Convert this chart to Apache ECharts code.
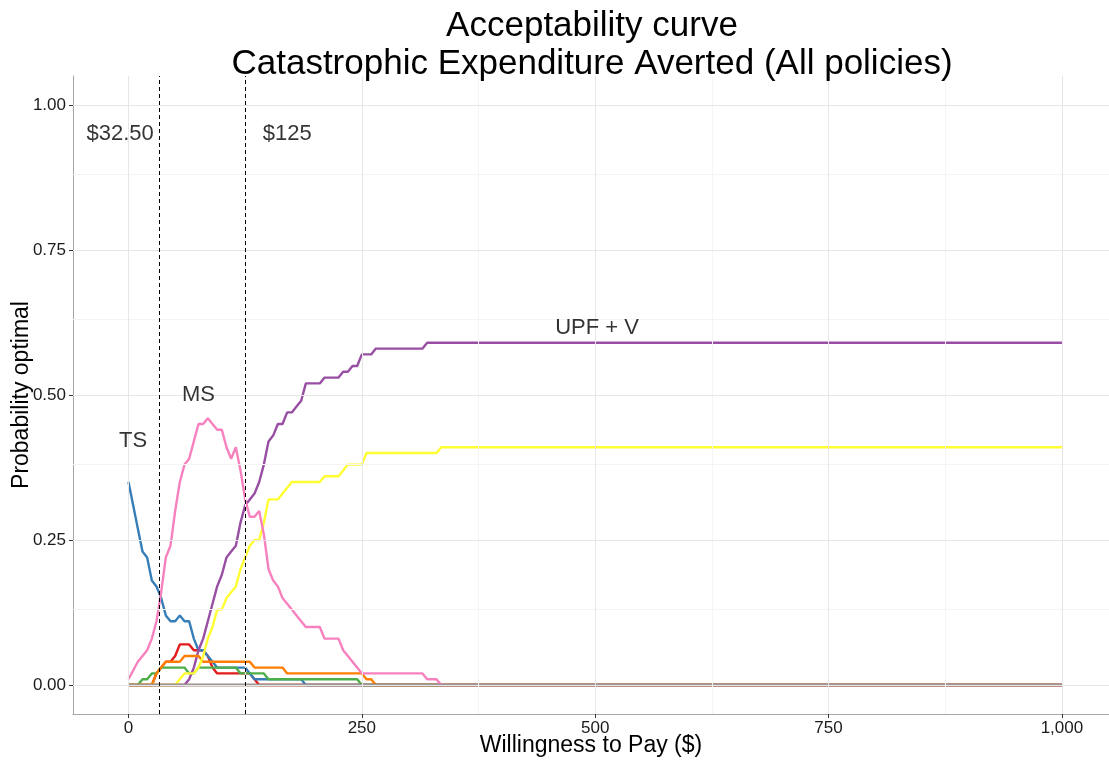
<!DOCTYPE html>
<html>
<head>
<meta charset="utf-8">
<script src="https://cdn.jsdelivr.net/npm/echarts@6/dist/echarts.min.js"></script>
<style>
  html, body { margin: 0; padding: 0; background: #ffffff; }
  #chart { width: 1109px; height: 763px; }
</style>
</head>
<body>
<div id="chart"></div>
<script>
// Willingness-to-pay thresholds (x) and probability each policy is optimal (y)
const seriesNames = ['Policy 1', 'TS', 'Policy 3', 'UPF + V', 'Policy 5', 'Policy 6', 'Policy 7', 'MS', 'Policy 9'];
const seriesColors = ['#E41A1C', '#377EB8', '#4DAF4A', '#984EA3', '#FF7F00', '#FFFF33', '#A65628', '#F781BF', '#999999'];

const redVals = [[0,0],[25,0],[30,0.02],[35,0.03],[40,0.04],[45,0.04],[50,0.05],[55,0.07],[65,0.07],[70,0.06],[80,0.06],[85,0.05],[90,0.03],[95,0.02],[130,0.02],[135,0.01],[140,0],[1000,0]];
const tsVals = [[0,0.35],[5,0.31],[10,0.27],[15,0.23],[20,0.22],[25,0.18],[30,0.17],[35,0.15],[40,0.12],[45,0.11],[50,0.11],[55,0.12],[60,0.11],[65,0.11],[70,0.08],[75,0.06],[80,0.06],[85,0.05],[90,0.04],[95,0.03],[125,0.03],[130,0.02],[135,0.01],[185,0.01],[190,0],[1000,0]];
const greenVals = [[0,0],[10,0],[15,0.01],[20,0.01],[25,0.02],[30,0.02],[35,0.03],[60,0.03],[65,0.02],[70,0.02],[75,0.03],[115,0.03],[120,0.02],[145,0.02],[150,0.01],[245,0.01],[250,0],[1000,0]];
const upfVals = [[0,0],[60,0],[65,0.01],[70,0.03],[75,0.06],[80,0.08],[85,0.11],[90,0.14],[95,0.17],[100,0.19],[105,0.22],[110,0.23],[115,0.24],[120,0.28],[125,0.31],[130,0.32],[135,0.33],[140,0.35],[145,0.38],[150,0.42],[155,0.43],[160,0.45],[165,0.45],[170,0.47],[175,0.47],[180,0.48],[185,0.49],[190,0.52],[205,0.52],[210,0.53],[225,0.53],[230,0.54],[235,0.54],[240,0.55],[245,0.55],[250,0.57],[260,0.57],[265,0.58],[315,0.58],[320,0.59],[1000,0.59]];
const orangeVals = [[0,0],[25,0],[30,0.02],[35,0.03],[40,0.04],[55,0.04],[60,0.05],[75,0.05],[80,0.04],[130,0.04],[135,0.03],[165,0.03],[170,0.02],[250,0.02],[255,0.01],[260,0.01],[265,0],[1000,0]];
const yellowVals = [[0,0],[50,0],[55,0.01],[60,0.02],[70,0.02],[75,0.03],[80,0.05],[85,0.08],[90,0.10],[95,0.13],[100,0.13],[105,0.15],[110,0.16],[115,0.17],[120,0.20],[125,0.22],[130,0.24],[135,0.25],[140,0.25],[145,0.28],[150,0.32],[160,0.32],[165,0.33],[170,0.34],[175,0.35],[205,0.35],[210,0.36],[225,0.36],[230,0.37],[235,0.38],[250,0.38],[255,0.40],[330,0.40],[335,0.41],[1000,0.41]];
const brownVals = [[0,0],[1000,0]];
const msVals = [[0,0.01],[10,0.04],[20,0.06],[25,0.08],[30,0.11],[35,0.16],[40,0.22],[45,0.24],[50,0.30],[55,0.35],[60,0.38],[65,0.39],[70,0.42],[75,0.45],[80,0.45],[85,0.46],[90,0.45],[95,0.44],[100,0.44],[105,0.41],[110,0.39],[115,0.41],[120,0.37],[125,0.32],[130,0.29],[135,0.29],[140,0.30],[145,0.26],[150,0.20],[155,0.18],[160,0.17],[165,0.15],[170,0.14],[175,0.13],[180,0.12],[185,0.11],[190,0.10],[205,0.10],[210,0.08],[225,0.08],[230,0.06],[235,0.05],[240,0.04],[245,0.03],[250,0.02],[315,0.02],[320,0.01],[330,0.01],[335,0],[1000,0]];
const greyVals = [[0,0],[1000,0]];
const allVals = [redVals, tsVals, greenVals, upfVals, orangeVals, yellowVals, brownVals, msVals, greyVals];

// Axis breaks and labels
const xTicks = [0, 250, 500, 750, 1000];
const xTickLabels = ['0', '250', '500', '750', '1,000'];
const xMinor = [125, 375, 625, 875];
const yTicks = [0, 0.25, 0.5, 0.75, 1];
const yTickLabels = ['0.00', '0.25', '0.50', '0.75', '1.00'];
const yMinor = [0.125, 0.375, 0.625, 0.875];

// Threshold markers and text annotations
const thresholds = [32.5, 125];
const annotations = [
  { value: [-9, 0.95], name: '$32.50' },
  { value: [170, 0.95], name: '$125' },
  { value: [5, 0.42], name: 'TS' },
  { value: [75, 0.5], name: 'MS' },
  { value: [502, 0.615], name: 'UPF + V' }
];

const xRange = [-59.45, 1050.45];
const yRange = [-0.05, 1.05];
const FONT = 'Liberation Sans';

const chart = echarts.init(document.getElementById('chart'), null, { renderer: 'canvas' });

const lineSeries = allVals.map((vals, i) => ({
  name: seriesNames[i],
  type: 'line',
  data: vals,
  showSymbol: false,
  symbol: 'none',
  z: 3,
  lineStyle: { color: seriesColors[i], width: 2.4 },
  itemStyle: { color: seriesColors[i] },
  emphasis: { disabled: true },
  animation: false
}));

const gridSeries = {
  type: 'scatter',
  data: [],
  z: 1,
  silent: true,
  animation: false,
  markLine: {
    silent: true,
    symbol: 'none',
    animation: false,
    label: { show: false },
    data: [
      ...xMinor.map(v => ({ xAxis: v, lineStyle: { color: '#f4f4f4', width: 1, type: 'solid' } })),
      ...yMinor.map(v => ({ yAxis: v, lineStyle: { color: '#f4f4f4', width: 1, type: 'solid' } })),
      ...xTicks.map(v => ({ xAxis: v, lineStyle: { color: '#e6e6e6', width: 1, type: 'solid' } })),
      ...yTicks.map(v => ({ yAxis: v, lineStyle: { color: '#e6e6e6', width: 1, type: 'solid' } }))
    ]
  }
};

const thresholdSeries = {
  type: 'scatter',
  data: [],
  z: 4,
  silent: true,
  animation: false,
  markLine: {
    silent: true,
    symbol: 'none',
    animation: false,
    label: { show: false },
    lineStyle: { color: '#000000', width: 1, type: [4, 3] },
    data: thresholds.map(v => ({ xAxis: v }))
  }
};

const annotationSeries = {
  type: 'scatter',
  data: annotations,
  symbolSize: 1,
  z: 5,
  silent: true,
  animation: false,
  itemStyle: { color: 'rgba(0,0,0,0)' },
  label: {
    show: true,
    position: 'inside',
    formatter: p => p.name,
    color: '#000000',
    fontFamily: FONT,
    fontSize: 22
  }
};

chart.setOption({
  backgroundColor: '#ffffff',
  animation: false,
  title: {
    text: 'Acceptability curve\nCatastrophic Expenditure Averted (All policies)',
    left: 587,
    top: 2,
    textAlign: 'center',
    textStyle: { fontFamily: FONT, fontSize: 35, fontWeight: 'normal', color: '#000000', lineHeight: 38 }
  },
  grid: { left: 73, right: 0, top: 76, bottom: 49, containLabel: false, outerBoundsMode: 'none' },
  xAxis: {
    type: 'value',
    min: xRange[0],
    max: xRange[1],
    name: 'Willingness to Pay ($)',
    nameLocation: 'middle',
    nameGap: 20,
    nameMoveOverlap: false,
    nameTextStyle: { fontFamily: FONT, fontSize: 23, color: '#000000' },
    axisLine: { show: true, onZero: false, lineStyle: { color: '#a6a6a6', width: 1 } },
    axisTick: { show: true, length: 4, customValues: xTicks, lineStyle: { color: '#333333', width: 1 } },
    axisLabel: {
      show: true,
      customValues: xTicks,
      margin: 6,
      fontFamily: FONT,
      fontSize: 17,
      color: '#1a1a1a',
      formatter: v => xTickLabels[xTicks.indexOf(v)] ?? ''
    },
    splitLine: { show: false },
    minorSplitLine: { show: false }
  },
  yAxis: {
    type: 'value',
    min: yRange[0],
    max: yRange[1],
    name: 'Probability optimal',
    nameLocation: 'middle',
    nameGap: 40,
    nameMoveOverlap: false,
    nameRotate: 90,
    nameTextStyle: { fontFamily: FONT, fontSize: 23, color: '#000000' },
    axisLine: { show: true, onZero: false, lineStyle: { color: '#a6a6a6', width: 1 } },
    axisTick: { show: true, length: 4, customValues: yTicks, lineStyle: { color: '#333333', width: 1 } },
    axisLabel: {
      show: true,
      customValues: yTicks,
      margin: 7,
      fontFamily: FONT,
      fontSize: 17,
      color: '#1a1a1a',
      formatter: v => {
        const idx = yTicks.findIndex(t => Math.abs(t - v) < 1e-9);
        return idx >= 0 ? yTickLabels[idx] : '';
      }
    },
    splitLine: { show: false },
    minorSplitLine: { show: false }
  },
  tooltip: { show: false },
  series: [gridSeries, ...lineSeries, thresholdSeries, annotationSeries]
});
</script>
</body>
</html>
